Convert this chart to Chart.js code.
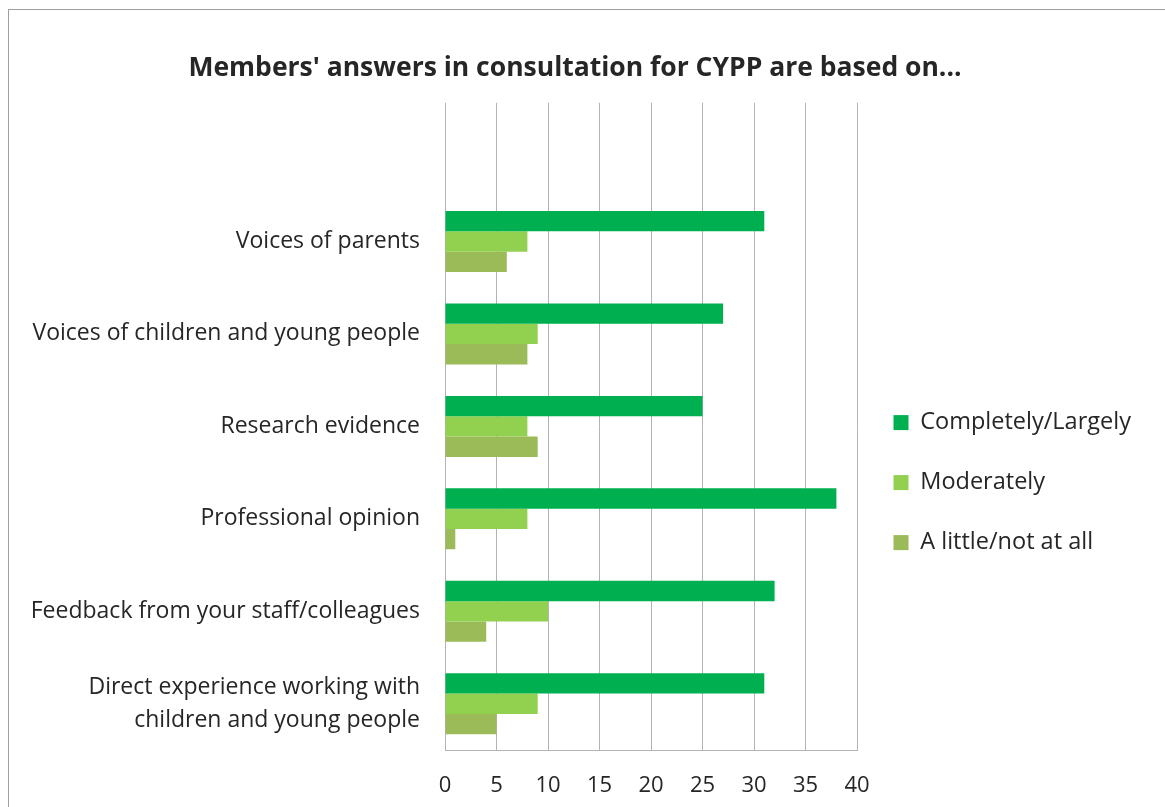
<!DOCTYPE html>
<html>
<head>
<meta charset="utf-8">
<script src="https://cdn.jsdelivr.net/npm/chart.js@4"></script>
<style>
    html, body { margin: 0; padding: 0; background: #fff; overflow: hidden; }
    #frame {
        position: absolute; left: 8px; top: 9px; width: 1200px; height: 820px;
        border-left: 1px solid #a0a0a0; border-top: 1px solid #a0a0a0;
    }
    #wrap { position: absolute; left: 2px; top: 2px; width: 1128px; height: 796px; }
</style>
</head>
<body>
<div id="frame"><div id="wrap"><canvas id="chart"></canvas></div></div>
<script>
// first row is the empty band at the top of the plot
const categories = [
    '',
    'Voices of parents',
    'Voices of children and young people',
    'Research evidence',
    'Professional opinion',
    'Feedback from your staff/colleagues',
    ['Direct experience working with', 'children and young people']
];
const seriesNames = ['Completely/Largely', 'Moderately', 'A little/not at all'];
const completely = [null, 31, 27, 25, 38, 32, 31];
const moderately = [null, 8, 9, 8, 8, 10, 9];
const aLittle = [null, 6, 8, 9, 1, 4, 5];
const xTicks = [0, 5, 10, 15, 20, 25, 30, 35, 40];

const colors = ['#00b050', '#92d050', '#9bbb59'];
const textColor = '#262626';
const gridColor = '#b3b3b3';
const font = "'Open Sans', sans-serif";

document.addEventListener('DOMContentLoaded', () => {
    const ctx = document.getElementById('chart').getContext('2d');

    new Chart(ctx, {
        type: 'bar',
        data: {
            labels: categories,
            datasets: [completely, moderately, aLittle].map((values, i) => ({
                label: seriesNames[i],
                data: values,
                backgroundColor: colors[i],
                borderWidth: 0,
                categoryPercentage: 0.66,
                barPercentage: 1
            }))
        },
        options: {
            indexAxis: 'y',
            responsive: true,
            maintainAspectRatio: false,
            animation: false,
            layout: { padding: 0 },
            plugins: {
                title: {
                    display: true,
                    text: "Members' answers in consultation for CYPP are based on...",
                    color: textColor,
                    font: { family: font, size: 26.5, weight: 'bold' },
                    padding: { top: 41, bottom: 18 }
                },
                legend: {
                    position: 'right',
                    title: { display: true, text: '', padding: { top: 0, bottom: 144 }, font: { size: 1 } },
                    labels: {
                        color: textColor,
                        font: { family: font, size: 23.5 },
                        boxWidth: 15,
                        boxHeight: 15,
                        padding: 36.5
                    }
                },
                tooltip: { enabled: false }
            },
            scales: {
                x: {
                    min: 0,
                    max: 40,
                    afterBuildTicks: (scale) => { scale.ticks = xTicks.map(v => ({ value: v })); },
                    afterFit: (scale) => { scale.height = 58; },
                    grid: { color: gridColor, lineWidth: 1, drawTicks: false },
                    border: { display: true, color: gridColor },
                    ticks: {
                        color: textColor,
                        font: { family: font, size: 22 },
                        padding: 23
                    }
                },
                y: {
                    afterFit: (scale) => { scale.width = 434; },
                    grid: { display: false, drawTicks: false },
                    border: { display: false },
                    ticks: {
                        color: textColor,
                        font: { family: font, size: 23, lineHeight: 1.45 },
                        padding: 25,
                        autoSkip: false
                    }
                }
            }
        }
    });
});
</script>
</body>
</html>
